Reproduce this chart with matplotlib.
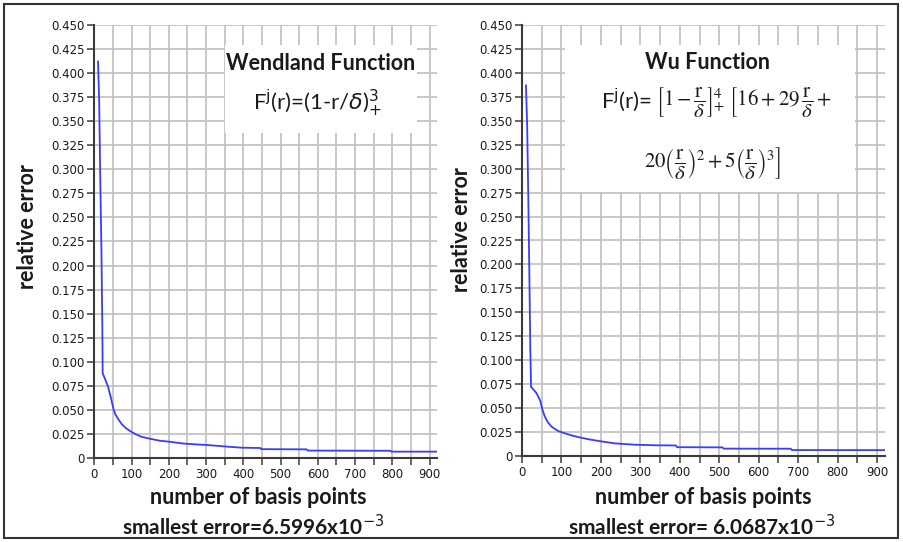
import matplotlib
matplotlib.use("Agg")
import matplotlib.pyplot as plt
from matplotlib.patches import Rectangle
from matplotlib.ticker import MultipleLocator, FuncFormatter

# relative error vs number of basis points, Wendland kernel
wend_n = [10, 13, 16, 19, 21.5, 22.5, 30, 37, 45, 52, 57, 65, 74, 85, 100, 115, 127,
          150, 175, 200, 240, 270, 303, 350, 396, 446, 448, 570, 573, 795, 798, 920]
wend_err = [0.412, 0.372, 0.291, 0.219, 0.140, 0.088, 0.081, 0.074, 0.062, 0.050, 0.045,
            0.040, 0.035, 0.031, 0.027, 0.024, 0.022, 0.020, 0.018, 0.017, 0.015, 0.0142,
            0.0135, 0.012, 0.0107, 0.0104, 0.0092, 0.0090, 0.0077, 0.0075, 0.0066, 0.0066]

# same for the Wu kernel
wu_n = [10, 13, 16, 18.6, 21, 23, 30, 37, 46, 52, 58, 66, 75, 92, 109, 130, 151, 175,
        197, 235, 286, 337, 390, 393, 508, 511, 681, 684, 920]
wu_err = [0.387, 0.347, 0.269, 0.191, 0.113, 0.072, 0.069, 0.0654, 0.058, 0.048, 0.041,
          0.035, 0.0306, 0.026, 0.0236, 0.021, 0.019, 0.017, 0.0155, 0.0132, 0.0118,
          0.0112, 0.0110, 0.0092, 0.0090, 0.0077, 0.0076, 0.0062, 0.0061]

W, H = 904, 542
fig = plt.figure(figsize=(W / 100, H / 100), dpi=100)
fig.patch.set_facecolor("white")

sans = ["Lato", "DejaVu Sans"]
line_color = "#3b3bff"
txt_color = "#1a1a1a"
lbl_size = 15.5


def px(x, y):
    return x / W, 1 - y / H


def setup(ax):
    ax.set_xlim(0, 920)
    ax.set_ylim(0, 0.45)
    ax.xaxis.set_major_locator(MultipleLocator(50))
    ax.yaxis.set_major_locator(MultipleLocator(0.025))
    ax.xaxis.set_major_formatter(FuncFormatter(lambda v, p: f"{v:.0f}" if round(v) % 100 == 0 else ""))
    ax.yaxis.set_major_formatter(FuncFormatter(lambda v, p: "0" if abs(v) < 1e-9 else f"{v:.3f}"))
    ax.grid(True, color="#c4c4c4", lw=1.3)
    ax.set_axisbelow(True)
    for s in ["top", "right"]:
        ax.spines[s].set_visible(False)
    for s in ["left", "bottom"]:
        ax.spines[s].set_color("#3a3a3a")
        ax.spines[s].set_linewidth(1.5)
    ax.tick_params(direction="out", length=5, width=1.1, color="#3a3a3a",
                   labelsize=8.5, labelcolor=txt_color, pad=2)


# Wendland panel
ax1 = fig.add_axes([94.3 / W, 84 / H, 342.7 / W, 433 / H])
setup(ax1)
ax1.plot(wend_n, wend_err, color=line_color, lw=1.3)
ax1.add_patch(Rectangle((0.381, 0.751), 0.561, 0.203, transform=ax1.transAxes,
                        facecolor="white", edgecolor="none", zorder=3))
ax1.text(0.659, 0.912, "Wendland Function", transform=ax1.transAxes, ha="center", va="center",
         fontsize=lbl_size, fontweight="bold", family=sans, color=txt_color, zorder=4)
ax1.text(0.652, 0.820, r"F$^{\rm j}$(r)=(1-r/$\delta$)$^{3}_{+}$", transform=ax1.transAxes,
         ha="center", va="center", fontsize=16, family=sans, color=txt_color, zorder=4)

# Wu panel
ax2 = fig.add_axes([522 / W, 86 / H, 363 / W, 431 / H])
setup(ax2)
ax2.plot(wu_n, wu_err, color=line_color, lw=1.3)
ax2.add_patch(Rectangle((0.118, 0.6125), 0.799, 0.3415, transform=ax2.transAxes,
                        facecolor="white", edgecolor="none", zorder=3))
ax2.text(0.512, 0.912, "Wu Function", transform=ax2.transAxes, ha="center", va="center",
         fontsize=lbl_size, fontweight="bold", family=sans, color=txt_color, zorder=4)
to_ax2 = lambda x, y: ax2.transAxes.inverted().transform(fig.transFigure.transform(px(x, y)))
ax2.text(*to_ax2(652, 100), r"F$^{\rm j}$(r)=", transform=ax2.transAxes, ha="right", va="center",
         fontsize=16, family=sans, color=txt_color, zorder=4)
frac = r"\dfrac{\mathrm{r}}{\delta}"
ax2.text(*to_ax2(656, 102),
         r"$\left[1-" + frac + r"\right]_{+}^{4}\ \left[16+29\," + frac + r"+\right.$",
         transform=ax2.transAxes, ha="left", va="center", fontsize=15,
         math_fontfamily="stix", color=txt_color, zorder=4)
ax2.text(*to_ax2(713, 163),
         r"$\left.20\left(" + frac + r"\right)^{2}+5\left(" + frac + r"\right)^{3}\right]$",
         transform=ax2.transAxes, ha="center", va="center", fontsize=15,
         math_fontfamily="stix", color=txt_color, zorder=4)

# axis titles and captions
fig.text(*px(28, 227), "relative error", rotation=90, ha="center", va="center",
         fontsize=lbl_size, fontweight="bold", family=sans, color=txt_color)
fig.text(*px(461, 230), "relative error", rotation=90, ha="center", va="center",
         fontsize=lbl_size, fontweight="bold", family=sans, color=txt_color)
fig.text(*px(258, 498), "number of basis points", ha="center", va="center",
         fontsize=lbl_size, fontweight="bold", family=sans, color=txt_color)
fig.text(*px(703, 498), "number of basis points", ha="center", va="center",
         fontsize=lbl_size, fontweight="bold", family=sans, color=txt_color)
fig.text(*px(253, 527), r"smallest error=6.5996x10$^{-3}$", ha="center", va="center",
         fontsize=lbl_size - 0.5, fontweight="bold", family=sans, color=txt_color)
fig.text(*px(702, 527), r"smallest error= 6.0687x10$^{-3}$", ha="center", va="center",
         fontsize=lbl_size - 0.5, fontweight="bold", family=sans, color=txt_color)

# outer frame
fig.patches.append(Rectangle((4 / W, 4 / H), 894 / W, 534 / H, transform=fig.transFigure,
                             fill=False, edgecolor="#333333", lw=1.5, figure=fig))

fig.savefig("out.png", dpi=100)
